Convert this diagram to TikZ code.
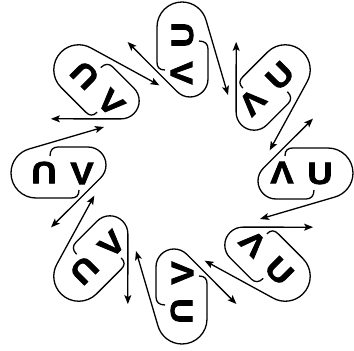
\documentclass[tikz,border=0pt]{standalone}
\usepackage{fontspec}
\newfontfamily\letterfont[FakeStretch=1.12, FakeBold=2.5]{Liberation Sans}
\usetikzlibrary{arrows.meta}

\tikzset{
  loopline/.style={line width=1.3bp},
  tailarrow/.style={loopline, -{Stealth[length=9bp,width=7bp,inset=2bp]}},
  lettersym/.style={font=\letterfont\bfseries\fontsize{31}{31}\selectfont, inner sep=0pt},
}

\begin{document}
\begin{tikzpicture}[x=1bp, y=1bp]
  \useasboundingbox (-182,-178) rectangle (172,173);
  \foreach \k in {0,...,7} {
    \begin{scope}[rotate=45*\k]
      % outer strand, round the far end
      \draw[tailarrow] (103,17) .. controls (103,23) and (106,25) .. (111,25) -- (146,25)
        arc[start angle=90, end angle=-75, radius=25] -- (78,-46);
      % inner strand, round the near end
      \draw[tailarrow] (132,-17) .. controls (132,-23) and (129,-26) .. (124,-26) -- (94,-26)
        arc[start angle=-90, end angle=-225, radius=18] -- (131,54.4);
      \node[lettersym, rotate=180+45*\k] (vee\k) at (100,0.5) {V};
      \node[lettersym, rotate=45*\k] (you\k) at (138,-0.5) {U};
    \end{scope}
  }
\end{tikzpicture}
\end{document}
